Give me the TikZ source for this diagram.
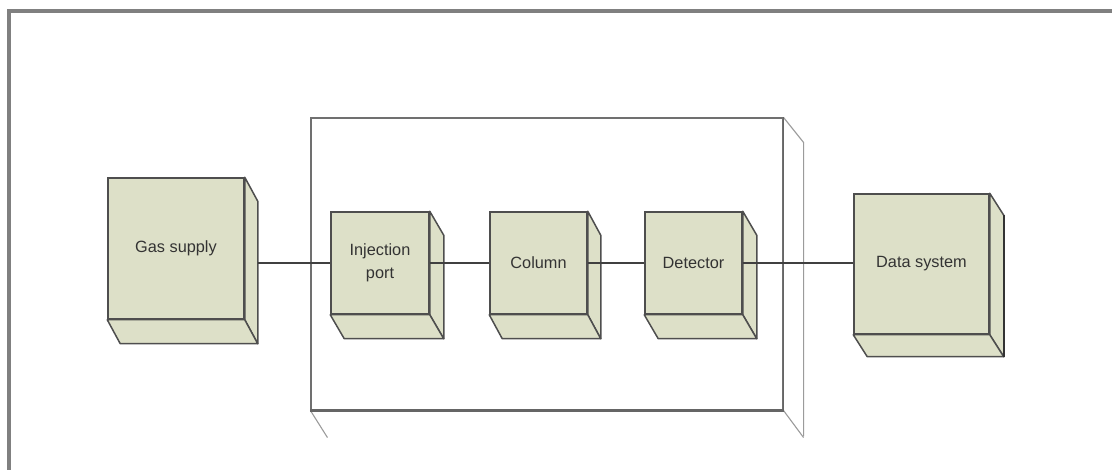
\documentclass[tikz,border=0pt]{standalone}
\usepackage{fontspec}
\setmainfont{Liberation Sans}
\definecolor{blockfill}{HTML}{DDE0C8}
\definecolor{edgegray}{HTML}{4E4E4E}
\definecolor{wiregray}{HTML}{404040}
\definecolor{labelgray}{HTML}{333333}
\definecolor{framegray}{HTML}{808080}
\definecolor{housegray}{HTML}{707070}

% a block with a front face plus a right side and a bottom showing depth
\newcommand\solidblock[8]{%
  \node[block, minimum width=#4pt, minimum height=#5pt] (#1) at (#2,#3) {#8};
  \draw[face] (#1.north east) -- ++(#6,#7) -- ([shift={(#6,#7)}]#1.south east)
        -- (#1.south east) -- cycle;
  \draw[face] (#1.south west) -- (#1.south east) -- ([shift={(#6,#7)}]#1.south east)
        -- ([shift={(#6,#7)}]#1.south west) -- cycle;
  \coordinate (#1-side) at ([xshift=#6pt]#1.east);
}

\begin{document}
\begin{tikzpicture}[x=1pt,y=-1pt,
  block/.style={draw=edgegray, line width=1.5pt, fill=blockfill, inner sep=0pt,
    font=\fontsize{16.3}{23}\selectfont, text=labelgray, align=center},
  face/.style={draw=edgegray, line width=1.5pt, fill=blockfill, line join=round},
  wire/.style={draw=wiregray, line width=2.6pt},
  housing/.style={draw=housegray, line width=1.1pt, inner sep=0pt,
    minimum width=472pt, minimum height=292pt},
  houseedge/.style={draw=housegray!70, line width=1.1pt}]

\useasboundingbox (0,0) rectangle (1112,470);

% outer frame (top and left edges only)
\fill[framegray] (7,9) rectangle (1112,13);
\fill[framegray] (7,9) rectangle (11,470);

% instrument housing
\node[housing] (gc) at (547,264) {};
\draw[houseedge] (gc.north east) -- ++(20,25) -- ++(0,294);
\draw[houseedge] (gc.south east) -- ++(20,27);
\draw[houseedge] (gc.south west) -- ++(17,27);
\draw[draw=housegray!90!black, line width=2.2pt] (gc.south west) -- (gc.south east);
\draw[draw=housegray!90!black, line width=1.6pt] (gc.north east) -- (gc.south east);

% blocks
\solidblock{gas}{176}{248.5}{136}{141}{13}{24}{Gas supply}
\solidblock{inj}{380}{263}{98}{102}{14}{24}{Injection\\port}
\solidblock{col}{538.5}{263}{97}{102}{13}{24}{Column}
\solidblock{det}{693.5}{263}{97}{102}{14}{24}{Detector}
\solidblock{data}{921.5}{264}{135}{140}{14}{22}{Data system}
\draw[draw=black!80, line width=2pt] ([shift={(14,22)}]data.north east) -- ([shift={(14,22)}]data.south east);

% connections
\draw[wire] (gas-side |- inj.west) -- (inj.west);
\draw[wire] (inj.east) -- (col.west);
\draw[wire] (col.east) -- (det.west);
\draw[wire] (det.east) -- (det.east -| data.west);
\end{tikzpicture}
\end{document}
